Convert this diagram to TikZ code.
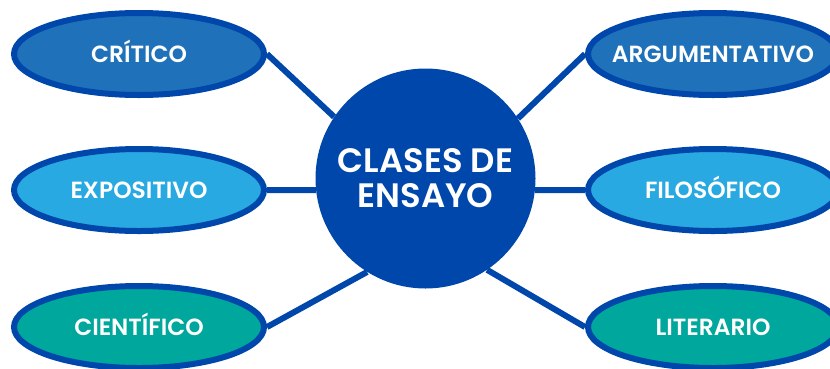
\documentclass[tikz,border=0pt]{standalone}
\usepackage{fontspec}
\setmainfont{Poppins}[BoldFont={Poppins SemiBold}]
\usetikzlibrary{shapes.geometric}

\definecolor{darkblue}{HTML}{0047AB}
\definecolor{midblue}{HTML}{1F71B9}
\definecolor{lightblue}{HTML}{29A9E1}
\definecolor{teal}{HTML}{00A79D}

\tikzset{
  tipo/.style={ellipse, draw=darkblue, line width=6bp, minimum width=250bp, minimum height=82bp, inner xsep=-80bp, inner ysep=0pt, text height=16.5bp, text depth=0pt, text=white, font=\fontsize{23.5}{26}\selectfont\bfseries},
  centro/.style={circle, fill=darkblue, minimum size=220bp, inner sep=0pt, text=white, align=center, font=\fontsize{34}{35}\selectfont\bfseries},
  enlace/.style={darkblue, line width=6bp}
}

\begin{document}
\begin{tikzpicture}[x=1bp,y=-1bp]

\clip (0,0) rectangle (830,368);

\coordinate (C) at (425.5,178.5);

\coordinate (L1) at (139,54);
\coordinate (L2) at (139,190);
\coordinate (L3) at (139,327);
\coordinate (R1) at (713,54);
\coordinate (R2) at (713,190);
\coordinate (R3) at (713,327);

\node[centro] (clases) at (C) {CLASES DE\\ENSAYO};

\node[tipo, fill=midblue] (critico) at (L1) {CRÍTICO};
\node[tipo, fill=lightblue] (expositivo) at (L2) {EXPOSITIVO};
\node[tipo, fill=teal] (cientifico) at (L3) {CIENTÍFICO};
\node[tipo, fill=midblue] (argumentativo) at (R1) {ARGUMENTATIVO};
\node[tipo, fill=lightblue] (filosofico) at (R2) {FILOSÓFICO};
\node[tipo, fill=teal] (literario) at (R3) {LITERARIO};

\draw[enlace] (clases.146) -- (critico.east);
\draw[enlace] (clases.186) -- (expositivo.east);
\draw[enlace] (clases.238) -- (cientifico.east);
\draw[enlace] (clases.33) -- (argumentativo.west);
\draw[enlace] (clases.-6) -- (filosofico.west);
\draw[enlace] (clases.-56) -- (literario.west);

\end{tikzpicture}
\end{document}
